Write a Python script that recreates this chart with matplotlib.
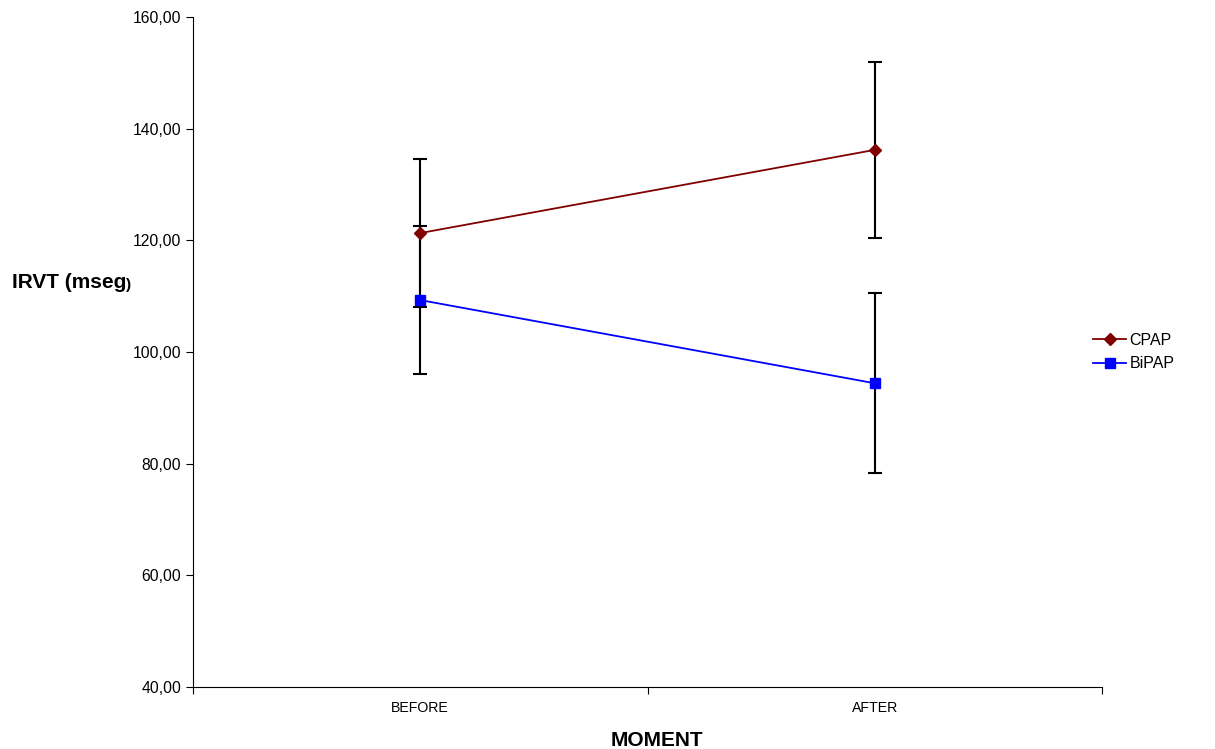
import matplotlib
matplotlib.use("Agg")
import matplotlib.pyplot as plt

# -----------------------------------------
# DATA
# -----------------------------------------
moments = ["BEFORE", "AFTER"]
cpap_mean = [121.3, 136.2]
cpap_err = [13.2, 15.8]
bipap_mean = [109.3, 94.4]
bipap_err = [13.3, 16.1]
y_ticks = [40, 60, 80, 100, 120, 140, 160]

plt.rcParams["font.family"] = ["Liberation Sans", "DejaVu Sans"]

fig = plt.figure(figsize=(12.15, 7.49), dpi=100)
ax = fig.add_axes([193 / 1215, 1 - 687 / 749, (1102 - 193) / 1215, (687 - 17) / 749])

x = [0.5, 1.5]

ax.errorbar(x, cpap_mean, yerr=cpap_err, fmt="none", ecolor="black",
            elinewidth=1.5, capsize=5, capthick=1.5, zorder=2)
ax.errorbar(x, bipap_mean, yerr=bipap_err, fmt="none", ecolor="black",
            elinewidth=1.5, capsize=5, capthick=1.5, zorder=2)
ax.plot(x, cpap_mean, color="#800000", marker="D", markersize=6,
        linewidth=1.3, label="CPAP", zorder=3)
ax.plot(x, bipap_mean, color="#0000FF", marker="s", markersize=7,
        linewidth=1.3, label="BiPAP", zorder=3)

ax.set_xlim(0, 2)
ax.set_ylim(40, 160)
ax.set_yticks(y_ticks)
ax.set_yticklabels([f"{v:.2f}".replace(".", ",") for v in y_ticks], fontsize=11.3)

ax.set_xticks([0, 1, 2])
ax.set_xticklabels([])
ax.set_xticks(x, minor=True)
ax.set_xticklabels(moments, minor=True, fontsize=10.2)
ax.tick_params(axis="x", which="minor", length=0, pad=10)
ax.tick_params(axis="both", which="major", length=5, direction="out")

for s in ["top", "right"]:
    ax.spines[s].set_visible(False)

fig.text(657 / 1215, 1 - 740 / 749, "MOMENT", fontsize=15, fontweight="bold",
         ha="center", va="center")
t = fig.text(12 / 1215, 1 - 283 / 749, "IRVT (mseg", fontsize=15, fontweight="bold",
             ha="left", va="center")
fig.canvas.draw()
bb = t.get_window_extent()
fig.text(bb.x1 / 1215, 1 - 285 / 749, ")", fontsize=11, fontweight="bold",
         ha="left", va="center")

ax.legend(loc="center left", bbox_to_anchor=(0.99, 0.50), frameon=False,
          fontsize=11.5, handlelength=2.1, handletextpad=0.2, labelspacing=0.55,
          borderpad=0, borderaxespad=0)

fig.savefig("out.png", dpi=100)
